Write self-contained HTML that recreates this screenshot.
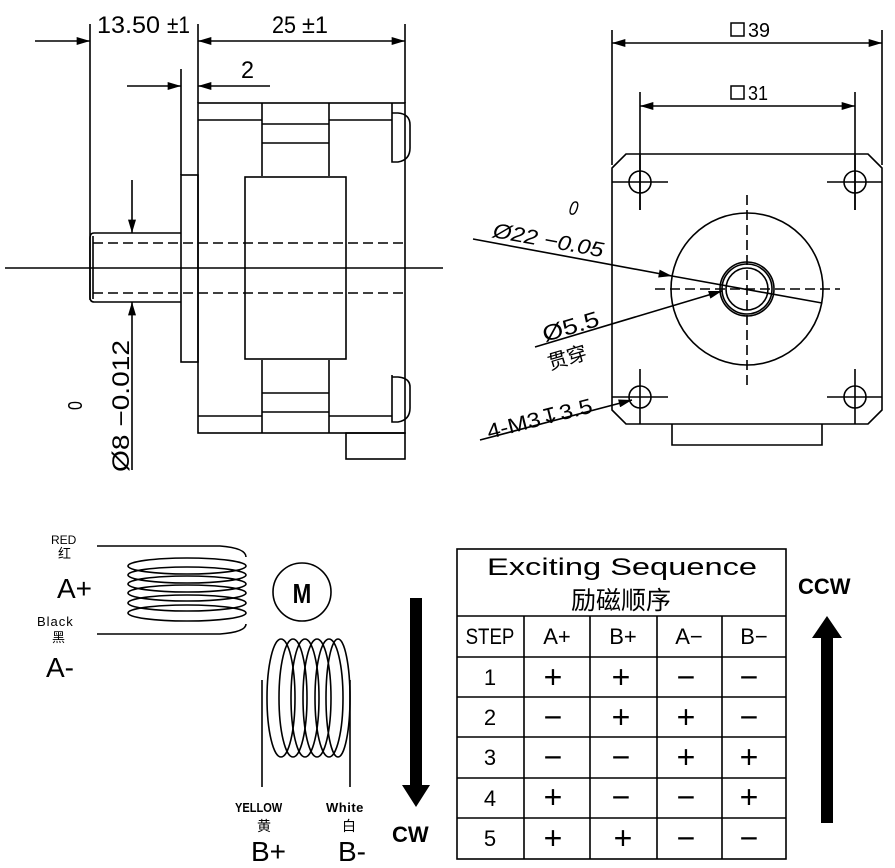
<!DOCTYPE html>
<html><head><meta charset="utf-8"><style>
html,body{margin:0;padding:0;background:#fff;}
svg{display:block;}
text{font-family:"Liberation Sans","Noto Sans CJK SC",sans-serif;fill:#000;}
</style></head><body>
<svg width="895" height="868" viewBox="0 0 895 868" xmlns="http://www.w3.org/2000/svg">
<defs>
<marker id="ar" viewBox="0 0 10 6" refX="10" refY="3" markerWidth="20" markerHeight="8" markerUnits="userSpaceOnUse" orient="auto-start-reverse"><path d="M0,0 L10,3 L0,6 Z" fill="#000"/></marker>
</defs>
<g stroke="#000" stroke-width="1.6" fill="none">
<!-- LEFT VIEW -->
<line x1="90" y1="24" x2="90" y2="300"/>
<line x1="198" y1="24" x2="198" y2="103"/>
<line x1="405" y1="24" x2="405" y2="103"/>
<line x1="35" y1="41" x2="90" y2="41" marker-end="url(#ar)"/>
<line x1="198" y1="41" x2="230" y2="41" marker-start="url(#ar)"/>
<line x1="230" y1="41" x2="405" y2="41" marker-end="url(#ar)"/>
<line x1="181" y1="69" x2="181" y2="175"/>
<line x1="127" y1="86" x2="181" y2="86" marker-end="url(#ar)"/>
<line x1="198" y1="86" x2="270" y2="86" marker-start="url(#ar)"/>
<rect x="198" y="103" width="207" height="330"/>
<line x1="198" y1="120" x2="262" y2="120"/>
<line x1="329" y1="120" x2="392" y2="120"/>
<line x1="262" y1="103" x2="262" y2="176"/>
<line x1="329" y1="103" x2="329" y2="176"/>
<line x1="262" y1="124" x2="329" y2="124"/>
<line x1="262" y1="143" x2="329" y2="143"/>
<line x1="198" y1="416" x2="262" y2="416"/>
<line x1="329" y1="416" x2="392" y2="416"/>
<line x1="262" y1="360" x2="262" y2="433"/>
<line x1="329" y1="360" x2="329" y2="433"/>
<line x1="262" y1="393" x2="329" y2="393"/>
<line x1="262" y1="412" x2="329" y2="412"/>
<rect x="245" y="177" width="101" height="182"/>
<rect x="181" y="175" width="17" height="187"/>
<path d="M181,233 L94,233 Q90,233 90,238 L90,297 Q90,302 94,302 L181,302"/>
<line x1="93" y1="236" x2="93" y2="299"/>
<path d="M392,103 V162 H398 Q410,160 410,148 V125 Q410,114 398,113 H392"/>
<path d="M392,375 V422 H398 Q410,420 410,408 V387 Q410,378 398,377 H392"/>
<rect x="346" y="433" width="59" height="26"/>
<line x1="93" y1="243" x2="405" y2="243" stroke-dasharray="10,5"/>
<line x1="93" y1="293" x2="405" y2="293" stroke-dasharray="10,5"/>
<line x1="5" y1="268" x2="443" y2="268"/>
<line x1="132" y1="180" x2="132" y2="233" marker-end="url(#ar)"/>
<line x1="132" y1="470" x2="132" y2="302" marker-end="url(#ar)"/>
<!-- RIGHT VIEW -->
<line x1="612" y1="30" x2="612" y2="165"/>
<line x1="882" y1="30" x2="882" y2="165"/>
<line x1="612" y1="43" x2="882" y2="43" marker-start="url(#ar)" marker-end="url(#ar)"/>
<line x1="640" y1="92" x2="640" y2="210"/>
<line x1="855" y1="92" x2="855" y2="210"/>
<line x1="640" y1="106" x2="855" y2="106" marker-start="url(#ar)" marker-end="url(#ar)"/>
<path d="M626,154 L868,154 L882,168 L882,410 L868,424 L626,424 L612,410 L612,168 Z"/>
<circle cx="640" cy="182" r="11"/><circle cx="855" cy="182" r="11"/>
<circle cx="640" cy="397" r="11"/><circle cx="855" cy="397" r="11"/>
<path d="M612,182 H668 M640,155 V210 M827,182 H882 M855,155 V210 M612,397 H668 M640,369 V424 M827,397 H882 M855,369 V424"/>
<circle cx="747" cy="289" r="76"/>
<circle cx="747" cy="289" r="27"/><circle cx="747" cy="289" r="25"/><circle cx="747" cy="289" r="21"/>
<line x1="655" y1="289" x2="840" y2="289" stroke-dasharray="10,5"/>
<line x1="747" y1="195" x2="747" y2="385" stroke-dasharray="10,5"/>
<path d="M672,424 V445 H822 V424"/>
<line x1="473" y1="239" x2="672" y2="276" marker-end="url(#ar)"/>
<line x1="672" y1="276" x2="822" y2="303"/>
<line x1="535" y1="347" x2="722" y2="291" marker-end="url(#ar)"/>
<line x1="480" y1="440" x2="632" y2="400" marker-end="url(#ar)"/>
<!-- TABLE -->
<rect x="457" y="549" width="329" height="310"/>
<path d="M457,616 H786 M457,657 H786 M457,697 H786 M457,737 H786 M457,778 H786 M457,818 H786"/>
<path d="M524,616 V859 M590,616 V859 M657,616 V859 M722,616 V859"/>
<!-- COILS -->
<path d="M97,546 H220 Q246,548 246,557"/>
<path d="M97,634 H220 Q246,632 246,624"/>
<ellipse cx="187" cy="566" rx="59" ry="8"/>
<ellipse cx="187" cy="575" rx="59" ry="8"/>
<ellipse cx="187" cy="584" rx="59" ry="8"/>
<ellipse cx="187" cy="593" rx="59" ry="8"/>
<ellipse cx="187" cy="603" rx="59" ry="8"/>
<ellipse cx="187" cy="613" rx="59" ry="8"/>
<circle cx="302" cy="592" r="29"/>
<ellipse cx="281" cy="698" rx="14" ry="59"/>
<ellipse cx="293" cy="698" rx="14" ry="59"/>
<ellipse cx="305" cy="698" rx="14" ry="59"/>
<ellipse cx="317" cy="698" rx="14" ry="59"/>
<ellipse cx="329" cy="698" rx="14" ry="59"/>
<ellipse cx="338" cy="698" rx="12" ry="59"/>
<line x1="262" y1="680" x2="262" y2="787"/>
<line x1="350" y1="680" x2="350" y2="787"/>
</g>
<!-- arrows CW / CCW -->
<path d="M410,598 H422 V785 H430 L416,807 L402,785 H410 Z" fill="#000"/>
<path d="M821,823 H833 V638 H842 L827,616 L812,638 H821 Z" fill="#000"/>
<!-- TEXT left view -->
<g font-size="24">
<text x="97" y="33" textLength="63" lengthAdjust="spacingAndGlyphs">13.50</text>
<text x="167" y="33" textLength="23" lengthAdjust="spacingAndGlyphs">±1</text>
<text x="272" y="33" textLength="24" lengthAdjust="spacingAndGlyphs">25</text>
<text x="302" y="33" textLength="26" lengthAdjust="spacingAndGlyphs">±1</text>
<text x="241" y="78" textLength="13" lengthAdjust="spacingAndGlyphs">2</text>
</g>
<text font-size="24" transform="translate(129,472) rotate(-90)" textLength="132" lengthAdjust="spacingAndGlyphs">Ø8 −0.012</text>
<text font-size="20" transform="translate(82,410) rotate(-90) scale(0.8,1)">0</text>
<!-- right view text -->
<rect x="731" y="23" width="13" height="13" fill="none" stroke="#000" stroke-width="1.5"/>
<text x="748" y="37" font-size="20" textLength="22" lengthAdjust="spacingAndGlyphs">39</text>
<rect x="731" y="86" width="13" height="13" fill="none" stroke="#000" stroke-width="1.5"/>
<text x="748" y="100" font-size="20" textLength="20" lengthAdjust="spacingAndGlyphs">31</text>
<text font-size="21" font-style="italic" transform="translate(492,237) rotate(10.4)" textLength="112" lengthAdjust="spacingAndGlyphs">Ø22 −0.05</text>
<text font-size="20" font-style="italic" transform="translate(568,214) rotate(10.4) scale(0.8,1)">0</text>
<text font-size="22" transform="translate(545,342) rotate(-16.6)" textLength="58" lengthAdjust="spacingAndGlyphs">Ø5.5</text>
<text font-size="20" transform="translate(550,370) rotate(-16.6)">贯穿</text>
<text font-size="21" transform="translate(489,439) rotate(-14.4)" textLength="108" lengthAdjust="spacingAndGlyphs">4-M3↧3.5</text>
<!-- table text -->
<text x="487" y="575" font-size="24" font-family="Liberation Mono,monospace" textLength="270" lengthAdjust="spacingAndGlyphs">Exciting Sequence</text>
<text x="621" y="609" font-size="25" text-anchor="middle">励磁顺序</text>
<g font-size="22" text-anchor="middle">
<text x="490" y="644" transform="translate(490,0) scale(0.85,1) translate(-490,0)">STEP</text>
<text x="557" y="644">A+</text><text x="623" y="644">B+</text><text x="689" y="644">A−</text><text x="754" y="644">B−</text>
<text x="490" y="685">1</text><text x="490" y="725">2</text><text x="490" y="765">3</text><text x="490" y="806">4</text><text x="490" y="846">5</text>
</g>
<g font-size="32" text-anchor="middle">
<text x="553" y="688">+</text><text x="621" y="688">+</text><text x="686" y="688">−</text><text x="749" y="688">−</text>
<text x="553" y="728">−</text><text x="621" y="728">+</text><text x="686" y="728">+</text><text x="749" y="728">−</text>
<text x="553" y="768">−</text><text x="621" y="768">−</text><text x="686" y="768">+</text><text x="749" y="768">+</text>
<text x="553" y="808">+</text><text x="621" y="808">−</text><text x="686" y="808">−</text><text x="749" y="808">+</text>
<text x="553" y="849">+</text><text x="623" y="849">+</text><text x="686" y="849">−</text><text x="749" y="849">−</text>
</g>
<text x="798" y="594" font-size="22" font-weight="bold">CCW</text>
<text x="392" y="842" font-size="22" font-weight="bold">CW</text>
<text x="302" y="603" font-size="28" font-weight="bold" text-anchor="middle" transform="translate(302,0) scale(0.8,1) translate(-302,0)">M</text>
<!-- coil labels -->
<text x="51" y="544" font-size="12">RED</text>
<text x="58" y="558" font-size="13">红</text>
<text x="57" y="598" font-size="28">A+</text>
<text x="37" y="626" font-size="13" letter-spacing="1">Black</text>
<text x="52" y="642" font-size="13">黑</text>
<text x="46" y="677" font-size="28">A-</text>
<text x="235" y="812" font-size="13" font-weight="bold" transform="translate(235,0) scale(0.85,1) translate(-235,0)">YELLOW</text>
<text x="257" y="831" font-size="14">黄</text>
<text x="251" y="861" font-size="28">B+</text>
<text x="326" y="812" font-size="13" font-weight="bold" letter-spacing="0.5">White</text>
<text x="342" y="831" font-size="14">白</text>
<text x="338" y="861" font-size="28">B-</text>
</svg>
</body></html>
